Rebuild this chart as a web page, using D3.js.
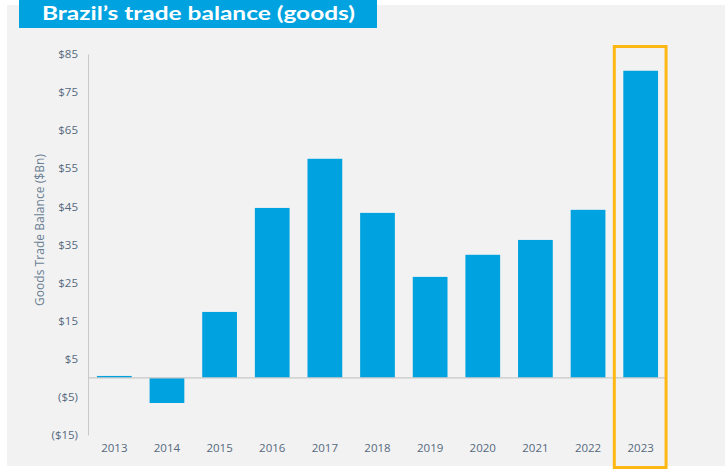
<!DOCTYPE html>
<html><head><meta charset="utf-8">
<script src="https://cdn.jsdelivr.net/npm/d3@7"></script>
<style>body{margin:0;background:#fff;}svg{display:block;font-family:"Open Sans",Lato,sans-serif;}</style>
</head><body>
<svg id="c" width="725" height="471"></svg>
<script>
const years = ["2013","2014","2015","2016","2017","2018","2019","2020","2021","2022","2023"];
const balance = [0.5, -6.6, 17.3, 44.6, 57.5, 43.3, 26.5, 32.3, 36.2, 44.1, 80.6];
const yTicks = [85, 75, 65, 55, 45, 35, 25, 15, 5, -5, -15];
const highlightYear = "2023";
const titleText = "Brazil\u2019s trade balance (goods)";
const yLabel = "Goods Trade Balance ($Bn)";

const svg = d3.select("#c");
svg.append("rect").attr("x",7).attr("y",5).attr("width",718).attr("height",461).attr("fill","#f2f2f2");

const x = d3.scaleBand().domain(years).range([88,667]).paddingInner(0.34).paddingOuter(0.17);
const y = d3.scaleLinear().domain([-15,85]).range([435,54]);
const fmt = v => v < 0 ? "($" + Math.abs(v) + ")" : "$" + v;
const txtCol = "#55697e";

// y axis
const yAxis = svg.append("g").attr("transform","translate(88,0)")
  .call(d3.axisLeft(y).tickValues(yTicks).tickFormat(fmt).tickSize(0).tickPadding(10));
yAxis.select(".domain").attr("stroke","#c8c8c8").attr("stroke-width",1);
yAxis.selectAll("text").attr("fill",txtCol).attr("font-size","11.5px").attr("font-family","'Open Sans',sans-serif");

// x axis labels
const xAxis = svg.append("g").attr("transform","translate(0,435)")
  .call(d3.axisBottom(x).tickSize(0).tickPadding(9));
xAxis.select(".domain").remove();
xAxis.selectAll("text").attr("fill",txtCol).attr("font-size","11.5px").attr("font-family","'Open Sans',sans-serif");

// bars
svg.append("g").selectAll("rect").data(years).join("rect")
  .attr("x", d => x(d))
  .attr("width", x.bandwidth())
  .attr("y", (d,i) => y(Math.max(0, balance[i])))
  .attr("height", (d,i) => Math.abs(y(balance[i]) - y(0)))
  .attr("fill", "#00a3e0");

// zero line
svg.append("line").attr("x1",88).attr("x2",667).attr("y1",y(0)).attr("y2",y(0))
  .attr("stroke","#c8c8c8").attr("stroke-width",1.2);

// highlight box
const hx = x(highlightYear);
svg.append("rect").attr("x", hx - 9).attr("y", 46.5)
  .attr("width", x.bandwidth() + 17).attr("height", 421)
  .attr("fill","none").attr("stroke","#fdb813").attr("stroke-width",3);

// y label
svg.append("text").attr("transform","translate(44,230) rotate(-90)")
  .attr("text-anchor","middle").attr("fill","#6a7f94").attr("font-size","12px")
  .attr("textLength",152).attr("lengthAdjust","spacing").text(yLabel);

// title
svg.append("rect").attr("x",19).attr("y",0).attr("width",358).attr("height",28).attr("fill","#00a3e0");
svg.append("text").attr("x",42).attr("y",20).attr("fill","#fff").attr("font-size","19px")
  .attr("font-family","Lato,sans-serif").attr("font-weight","bold")
  .attr("textLength",313).attr("lengthAdjust","spacingAndGlyphs").text(titleText);
</script>
</body></html>
